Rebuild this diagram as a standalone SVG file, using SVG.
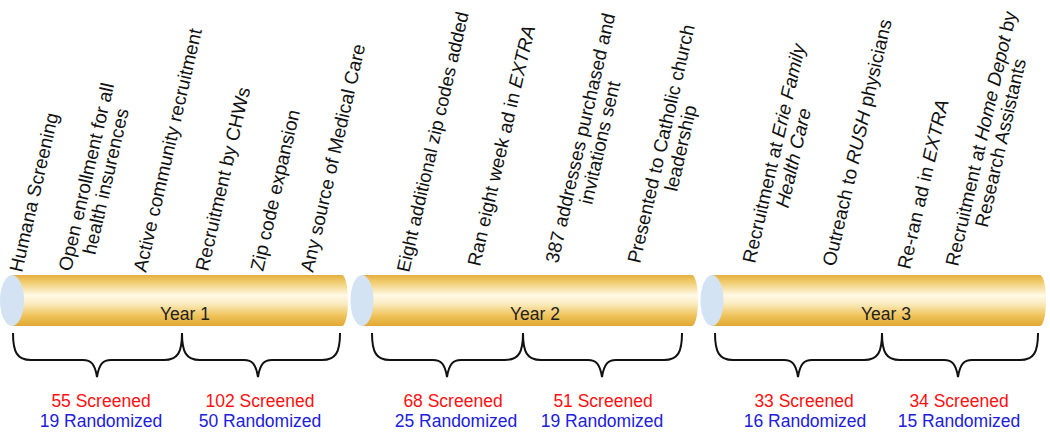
<svg xmlns="http://www.w3.org/2000/svg" width="1050" height="432" viewBox="0 0 1050 432">
<defs>
<linearGradient id="gold" x1="0" y1="0" x2="0" y2="1">
<stop offset="0" stop-color="#e4ae40"/>
<stop offset="0.12" stop-color="#f0c966"/>
<stop offset="0.40" stop-color="#fff9e6"/>
<stop offset="0.55" stop-color="#fbeec4"/>
<stop offset="0.80" stop-color="#efc35a"/>
<stop offset="1" stop-color="#e0a832"/>
</linearGradient>
<style>
.lbl{font-family:"Liberation Sans",Arial,sans-serif;font-size:19px;fill:#111}
.yr{font-family:"Liberation Sans",Arial,sans-serif;font-size:17.5px;fill:#222;text-anchor:middle}
.cnt{font-family:"Liberation Sans",Arial,sans-serif;font-size:17.5px;text-anchor:middle}
.scr{fill:#ff1010}
.rnd{fill:#2020dd}
.cap{fill:#d3e3f3}
.body{fill:url(#gold)}
.brace{fill:none;stroke:#111;stroke-width:2}
.it{font-style:italic}
</style>
</defs>

<g id="year1">
<path class="body" d="M12,275 H342 A6 25.5 0 0 1 342,326 H12 Z"/>
<ellipse class="cap" cx="12" cy="300.5" rx="12" ry="25.5"/>
<text class="yr" x="185" y="320">Year 1</text>
</g>
<g id="year2">
<path class="body" d="M362,275 H692 A6 25.5 0 0 1 692,326 H362 Z"/>
<ellipse class="cap" cx="362" cy="300.5" rx="11.5" ry="25.5"/>
<text class="yr" x="535" y="320">Year 2</text>
</g>
<g id="year3">
<path class="body" d="M712,275 H1040 A6 25.5 0 0 1 1040,326 H712 Z"/>
<ellipse class="cap" cx="712" cy="300.5" rx="11.5" ry="25.5"/>
<text class="yr" x="886" y="320">Year 3</text>
</g>

<g id="labels">
<g id="l1"><text class="lbl" transform="translate(22,273) rotate(-77)">Humana Screening</text></g>
<g id="l2"><text class="lbl" transform="translate(71,272) rotate(-77)" text-anchor="middle"><tspan x="96.1" y="0">Open enrollment for all</tspan><tspan x="96.1" y="20">health insurences</tspan></text></g>
<g id="l3"><text class="lbl" transform="translate(146,273) rotate(-77)">Active community recruitment</text></g>
<g id="l4"><text class="lbl" transform="translate(208,272) rotate(-77)">Recruitment by CHWs</text></g>
<g id="l5"><text class="lbl" transform="translate(263,272) rotate(-77)">Zip code expansion</text></g>
<g id="l6"><text class="lbl" transform="translate(313,273) rotate(-77)">Any source of Medical Care</text></g>
<g id="l7"><text class="lbl" style="font-size:18.5px" transform="translate(409,273) rotate(-77)">Eight additional zip codes added</text></g>
<g id="l8"><text class="lbl" transform="translate(480,267) rotate(-77)">Ran eight week ad in <tspan class="it">EXTRA</tspan></text></g>
<g id="l9"><text class="lbl" transform="translate(558,264) rotate(-77)" text-anchor="middle"><tspan x="127.8" y="0">387 addresses purchased and</tspan><tspan x="127.8" y="20">invitations sent</tspan></text></g>
<g id="l10"><text class="lbl" transform="translate(640,264) rotate(-77)" text-anchor="middle"><tspan x="122" y="0">Presented to Catholic church</tspan><tspan x="122" y="20">leadership</tspan></text></g>
<g id="l11"><text class="lbl" transform="translate(755,264) rotate(-77)" text-anchor="middle"><tspan x="112" y="0">Recruitment at <tspan class="it">Erie Family</tspan></tspan><tspan class="it" x="112" y="20">Health Care</tspan></text></g>
<g id="l12"><text class="lbl" transform="translate(835,267) rotate(-77)">Outreach to <tspan class="it">RUSH</tspan> physicians</text></g>
<g id="l13"><text class="lbl" transform="translate(910,270) rotate(-77)">Re-ran ad in <tspan class="it">EXTRA</tspan></text></g>
<g id="l14"><text class="lbl" transform="translate(958,267) rotate(-77)" text-anchor="middle"><tspan x="130.4" y="0">Recruitment at <tspan class="it">Home Depot</tspan> by</tspan><tspan x="130.4" y="20">Research Assistants</tspan></text></g>
</g>

<g id="braces">
<path class="brace" d="M13,333 C13,352 17,360 31,360 H83 C91,360 95,364 97,377 C99,364 103,360 111,360 H164 C178,360 182,352 182,333"/>
<path class="brace" d="M182,333 C182,352 186,360 200,360 H244 C252,360 256,364 258,377 C260,364 264,360 272,360 H322 C336,360 340,352 340,333"/>
<path class="brace" d="M372,333 C372,352 376,360 390,360 H433 C441,360 445,364 447,377 C449,364 453,360 461,360 H505 C519,360 523,352 523,333"/>
<path class="brace" d="M523,333 C523,352 527,360 541,360 H588 C596,360 600,364 602,377 C604,364 608,360 616,360 H664 C678,360 682,352 682,333"/>
<path class="brace" d="M715,333 C715,352 719,360 733,360 H784 C792,360 796,364 798,377 C800,364 804,360 812,360 H864 C878,360 882,352 882,333"/>
<path class="brace" d="M882,333 C882,352 886,360 900,360 H944 C952,360 956,364 958,377 C960,364 964,360 972,360 H1020 C1034,360 1038,352 1038,333"/>
</g>

<g id="counts">
<g id="c1"><text class="cnt scr" x="101" y="407">55 Screened</text><text class="cnt rnd" x="101" y="427">19 Randomized</text></g>
<g id="c2"><text class="cnt scr" x="260" y="407">102 Screened</text><text class="cnt rnd" x="260" y="427">50 Randomized</text></g>
<g id="c3"><text class="cnt scr" x="453" y="407">68 Screened</text><text class="cnt rnd" x="456" y="427">25 Randomized</text></g>
<g id="c4"><text class="cnt scr" x="603" y="407">51 Screened</text><text class="cnt rnd" x="602" y="427">19 Randomized</text></g>
<g id="c5"><text class="cnt scr" x="804" y="407">33 Screened</text><text class="cnt rnd" x="805" y="427">16 Randomized</text></g>
<g id="c6"><text class="cnt scr" x="959" y="407">34 Screened</text><text class="cnt rnd" x="959" y="427">15 Randomized</text></g>
</g>
</svg>
